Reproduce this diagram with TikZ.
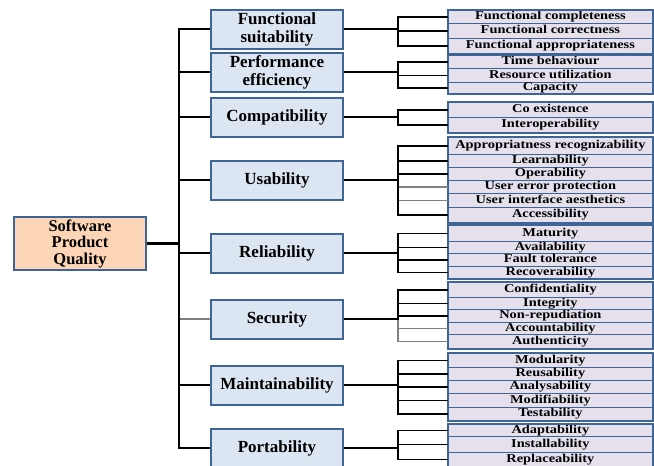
\documentclass[tikz,border=0pt]{standalone}
\usepackage{fontspec}
\setmainfont{Liberation Serif}
\newfontfamily\subfont[FakeStretch=1.2]{Liberation Serif}
\definecolor{boxblue}{HTML}{3D6697}
\definecolor{rootfill}{HTML}{FBD5B5}
\definecolor{charfill}{HTML}{DCE6F2}
\definecolor{subfill}{HTML}{E5E0EC}

\begin{document}
\begin{tikzpicture}[x=1pt, y=-1pt,
	rootbox/.style={draw=boxblue, line width=1.6pt, fill=rootfill, minimum width=132pt, minimum height=53pt, inner sep=0pt, align=center, font=\fontsize{16.5}{16.5}\selectfont\bfseries},
	charbox/.style={draw=boxblue, line width=2pt, fill=charfill, minimum width=132pt, minimum height=39pt, inner sep=0pt, align=center, font=\fontsize{17}{18}\selectfont\bfseries},
	subrow/.style={draw=boxblue, line width=0.8pt, fill=subfill, minimum width=204pt, inner sep=0pt, anchor=north west, text height=8pt, text depth=2.5pt, font=\subfont\fontsize{12}{12}\selectfont\bfseries},
	subframe/.style={draw=boxblue, line width=2pt},
	link/.style={line width=1.6pt, black},
	faint/.style={line width=1.6pt, gray},
	trunk/.style={line width=2.2pt, black}]
	\useasboundingbox (0,0) rectangle (654,466);

	% quality model and its characteristics
	\node[rootbox] (quality) at (80,243.5) {Software\\Product\\Quality};
	\node[charbox] (fs) at (277,29) {Functional\\suitability};
	\node[charbox] (pe) at (277,72) {Performance\\efficiency};
	\node[charbox] (co) at (277,117) {Compatibility};
	\node[charbox] (us) at (277,180) {Usability};
	\node[charbox] (re) at (277,253) {Reliability};
	\node[charbox] (se) at (277,319) {Security};
	\node[charbox] (ma) at (277,385) {Maintainability};
	\node[charbox] (po) at (277,448) {Portability};

	% sub-characteristics
	\foreach \n/\t/\h/\s in {
		fs1/10/13/Functional completeness, fs2/23/15/Functional correctness, fs3/38/15/Functional appropriateness,
		pe1/55/13/Time behaviour, pe2/68/14/Resource utilization, pe3/82/11/Capacity,
		co1/102/15/Co existence, co2/117/15/Interoperability,
		us1/137/17/Appropriatness recognizability, us2/154/13/Learnability, us3/167/13/Operability,
		us4/180/13/User error protection, us5/193/14/User interface aesthetics, us6/207/15/Accessibility,
		re1/225/16/Maturity, re2/241/12/Availability, re3/253/13/Fault tolerance, re4/266/12/Recoverability,
		se1/282/15/Confidentiality, se2/297/12/Integrity, se3/309/13/Non-repudiation,
		se4/322/12/Accountability, se5/334/14/Authenticity,
		ma1/353/14/Modularity, ma2/367/13/Reusability, ma3/380/13/Analysability,
		ma4/393/14/Modifiability, ma5/407/13/Testability,
		po1/424/12/Adaptability, po2/436/16/Installability, po3/452/14/Replaceability}
		\node[subrow, minimum height=\h pt] (\n) at (448,\t) {\s};

	\draw[subframe] (fs1.north west) rectangle (fs3.south east);
	\draw[subframe] (pe1.north west) rectangle (pe3.south east);
	\draw[subframe] (co1.north west) rectangle (co2.south east);
	\draw[subframe] (us1.north west) rectangle (us6.south east);
	\draw[subframe] (re1.north west) rectangle (re4.south east);
	\draw[subframe] (se1.north west) rectangle (se5.south east);
	\draw[subframe] (ma1.north west) rectangle (ma5.south east);
	\draw[subframe] (po1.north west) rectangle (po3.south east);

	% tree
	\draw[faint] (quality.east) -- ++(32,0) |- (se.west);
	\foreach \n in {fs,pe,co,us,re,ma,po}
		\draw[trunk] (quality.east) -- ++(32,0) |- (\n.west);

	\draw[faint] (us.east) -- ++(54,0) |- (us4.west);
	\draw[faint] (us.east) -- ++(54,0) |- (us5.west);
	\draw[faint] (se.east) -- ++(54,0) |- (se4.west);
	\draw[faint] (se.east) -- ++(54,0) |- (se5.west);
	\foreach \n in {fs1,fs2,fs3}
		\draw[link] (fs.east) -- ++(54,0) |- (\n.west);
	\foreach \n in {pe1,pe2,pe3}
		\draw[link] (pe.east) -- ++(54,0) |- (\n.west);
	\foreach \n in {co1,co2}
		\draw[link] (co.east) -- ++(54,0) |- (\n.west);
	\foreach \n in {us1,us2,us3,us6}
		\draw[link] (us.east) -- ++(54,0) |- (\n.west);
	\foreach \n in {re1,re2,re3,re4}
		\draw[link] (re.east) -- ++(54,0) |- (\n.west);
	\foreach \n in {se1,se2,se3}
		\draw[link] (se.east) -- ++(54,0) |- (\n.west);
	\foreach \n in {ma1,ma2,ma3,ma4,ma5}
		\draw[link] (ma.east) -- ++(54,0) |- (\n.west);
	\foreach \n in {po1,po2,po3}
		\draw[link] (po.east) -- ++(54,0) |- (\n.west);
\end{tikzpicture}
\end{document}
